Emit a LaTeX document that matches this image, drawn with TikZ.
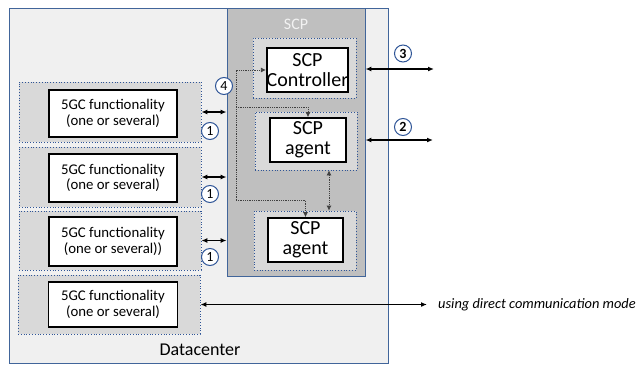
\documentclass[tikz,border=0pt]{standalone}
\usepackage{fontspec}
\setmainfont{Carlito}
\usetikzlibrary{arrows.meta}
\definecolor{dcfill}{HTML}{F0F0F0}
\definecolor{dcline}{HTML}{41659A}
\definecolor{scpfill}{HTML}{BFBFBF}
\definecolor{dotfill}{HTML}{D9D9D9}
\definecolor{dotline}{HTML}{2F5597}
\definecolor{circline}{HTML}{2F5597}
\definecolor{titlegray}{HTML}{F2F2F2}
\begin{document}
\begin{tikzpicture}[x=1pt,y=-1pt,
  frame/.style 2 args={draw=dcline, line width=0.9pt, minimum width=#1, minimum height=#2, inner sep=0pt},
  wb/.style 2 args={draw=black, line width=1.6pt, fill=white, minimum width=#1, minimum height=#2, inner sep=0pt, align=center},
  db/.style 2 args={draw=dotline, dotted, line width=0.8pt, fill=dotfill, minimum width=#1, minimum height=#2, inner sep=0pt},
  gctext/.style={font=\fontsize{14.8}{15.5}\selectfont},
  scptext/.style={font=\fontsize{20}{20}\selectfont},
  num/.style={circle, draw=circline, line width=1pt, fill=white, minimum size=17pt, inner sep=0pt, font=\fontsize{14}{14}\selectfont},
  dar/.style={black, line width=1.2pt, {Latex[length=6pt,width=5pt]}-{Latex[length=6pt,width=5pt]}},
  dl/.style={densely dotted, line width=0.8pt, draw=black!75},
  dlt/.style={-{Latex[length=5pt,width=5pt]}},
]
\useasboundingbox (0,0) rectangle (641,365);

% Datacenter
\node[frame={379}{355}, fill=dcfill] (dc) at (198.5,185.5) {};
\node[font=\fontsize{18}{18}\selectfont] (dclabel) at (200,350) {Datacenter};

% SCP
\node[frame={138}{268}, fill=scpfill] (scp) at (296,142) {};
\node[font=\fontsize{16}{16}\selectfont, text=titlegray] (scptitle) at (296,24) {SCP};

\node[db={103}{60}] (cd) at (304.5,68) {};
\node[wb={75}{44}, scptext] (cb) at (307.5,70) {SCP\\Controller};
\node[db={102}{58}] (a1d) at (306,141) {};
\node[wb={76}{44}, scptext] (a1b) at (308,140) {SCP\\agent};
\node[db={102}{59}] (a2d) at (305,240.5) {};
\node[wb={75}{44}, scptext] (a2b) at (305.5,240) {SCP\\agent};

% 5GC boxes
\node[db={182}{60}] (f1d) at (110,112) {};
\node[wb={128}{47}, gctext] (f1b) at (113,113.5) {5GC functionality\\(one or several)};
\node[db={182}{60}] (f2d) at (110,177) {};
\node[wb={128}{48}, gctext] (f2b) at (113,178) {5GC functionality\\(one or several)};
\node[db={182}{59}] (f3d) at (110,240.5) {};
\node[wb={128}{49}, gctext] (f3b) at (113,241.5) {5GC functionality\\(one or several))};
\node[db={182}{59}] (f4d) at (109,304.5) {};
\node[wb={129}{45}, gctext] (f4b) at (113,304.5) {5GC functionality\\(one or several)};

% reference point 1 arrows
\draw[dar] (f1d.east) -- (f1d.east -| scp.west);
\draw[dar] (f2d.east) -- (f2d.east -| scp.west);
\draw[dar] (f3d.east) -- (f3d.east -| scp.west);
\node[num] (n1a) at (210,131) {1};
\node[num] (n1b) at (210,194) {1};
\node[num] (n1c) at (210,257) {1};

% reference point 4 (dotted)
\coordinate (t) at (236,70);
\coordinate (br) at (236,107);
\coordinate (bt) at (236,200);
\draw[dl,dlt] (bt) -- (t) -- (cb.west);
\draw[dl,dlt] (br) -| (a1b.north);
\draw[dl,dlt] (bt) -| (a2b.north);
\node[num] (n4) at (224,86) {4};

% agent to agent
\coordinate (m) at (329,0);
\draw[dl,{Latex[length=5pt,width=5pt]}-{Latex[length=5pt,width=5pt]}] (a1d.south -| m) -- (a2d.north -| m);

% reference points 3 and 2
\coordinate (e3) at (434,69);
\coordinate (e2) at (433,140);
\draw[dar] (e3 -| scp.east) -- (e3);
\draw[dar] (e2 -| scp.east) -- (e2);
\node[num, font=\fontsize{14}{14}\selectfont\bfseries] (n3) at (403,53.5) {3};
\node[num, font=\fontsize{14}{14}\selectfont\bfseries] (n2) at (403,127) {2};

% direct communication
\coordinate (ed) at (427,304.5);
\draw[dar] (f4d.east) -- (ed);
\node[anchor=west, font=\fontsize{14.4}{14.4}\selectfont\itshape, inner sep=0pt] (direct) at (438,304.5) {using direct communication mode};
\end{tikzpicture}
\end{document}
